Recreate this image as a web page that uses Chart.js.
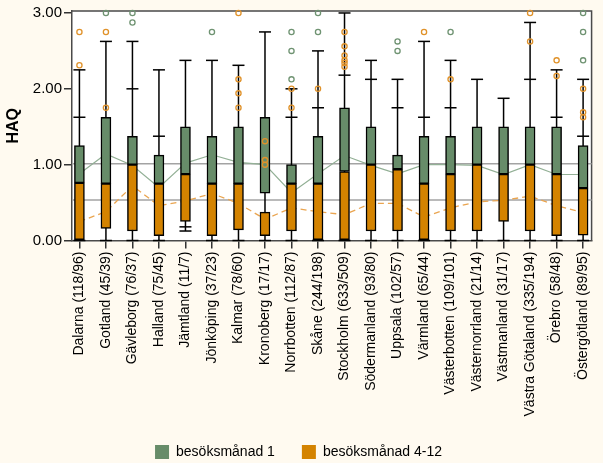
<!DOCTYPE html>
<html>
<head>
<meta charset="utf-8">
<script src="https://cdn.jsdelivr.net/npm/chart.js@4/dist/chart.umd.min.js"></script>
<style>
html,body{margin:0;padding:0;background:#fffaf0;}
canvas{display:block;}
</style>
</head>
<body>
<canvas id="c" width="603" height="463"></canvas>
<script>
// ---- data ----
const categories = ['Dalarna (118/96)','Gotland (45/39)','Gävleborg (76/37)','Halland (75/45)','Jämtland (11/7)','Jönköping (37/23)','Kalmar (78/60)','Kronoberg (17/17)','Norrbotten (112/87)','Skåne (244/198)','Stockholm (633/509)','Södermanland (93/80)','Uppsala (102/57)','Värmland (65/44)','Västerbotten (109/101)','Västernorrland (21/14)','Västmanland (31/17)','Västra Götaland (335/194)','Örebro (58/48)','Östergötland (89/95)'];
const seriesNames = ['besöksmånad 1','besöksmånad 4-12'];

// box of besöksmånad 1 (green)
const greenLow  = [0.76,0.75,1.00,0.75,0.875,0.75,0.75,0.625,0.75,0.75,0.91,1.00,0.94,0.75,0.875,1.00,0.875,1.00,0.875,0.69];
const greenHigh = [1.25,1.625,1.375,1.125,1.50,1.375,1.50,1.625,1.00,1.375,1.75,1.50,1.125,1.375,1.375,1.50,1.50,1.50,1.50,1.25];
// box of besöksmånad 4-12 (orange)
const orangeLow  = [0,0.16,0.125,0.0625,0.25,0.0625,0.14,0.0625,0.125,0,0,0.125,0.125,0,0.125,0.125,0.25,0.125,0.0625,0.07];
const orangeHigh = [0.76,0.75,1.00,0.75,0.875,0.75,0.75,0.375,0.75,0.75,0.91,1.00,0.94,0.75,0.875,1.00,0.875,1.00,0.875,0.69];

// whiskers
const whiskerMin = [0,0,0,0,0.125,0,0,0,0,0,0,0,0,0,0,0,0,0,0,0];
const whiskerMax = [2.25,2.625,2.625,2.25,2.375,2.375,2.31,2.75,2.00,2.50,3.00,2.375,2.125,2.625,2.375,2.125,1.875,2.875,2.25,2.125];
const innerCaps  = [[1.625],[],[2.00],[1.375],[0.18],[],[],[],[1.625],[1.75],[2.18],[2.125],[1.75],[1.625],[1.75],[],[],[2.125],[1.625],[1.375]];

// outliers
const greenOutliers  = [[],[3.0],[3.0,2.875],[],[],[2.75],[],[],[2.75,2.5,2.125],[3.0,2.75],[],[],[2.625,2.5],[],[2.75],[],[],[],[],[3.0,2.75,2.375]];
const orangeOutliers = [[2.75,2.31],[2.75,1.75],[],[],[],[],[3.0,2.125,1.94,1.75],[1.31,1.06,1.0],[2.0,1.75],[2.0],[2.75,2.56,2.44,2.375,2.34,2.29],[],[],[2.75],[2.125],[],[],[3.0,2.625],[2.375,2.17],[2.0,1.69,1.625]];

// means
const greenMean  = [0.88,1.14,0.99,0.70,1.02,1.13,1.03,1.00,0.63,0.88,1.12,0.99,0.88,1.00,1.00,0.99,0.87,1.00,0.87,0.87];
const orangeMean = [0.25,0.38,0.72,0.46,0.52,0.62,0.49,0.28,0.43,0.38,0.34,0.49,0.49,0.31,0.43,0.51,0.53,0.585,0.46,0.37];

// overall reference lines
const refLines = [1.013, 0.533];

const yTicks = [0,1,2,3];

// ---- colours ----
const GREEN = '#678c69', ORANGE = '#d48300';

Chart.defaults.font.family = "'Liberation Sans', Arial, sans-serif";

const bgPlugin = {
  id: 'bg',
  beforeDraw(chart) {
    const {ctx, chartArea: a} = chart;
    ctx.save();
    ctx.fillStyle = '#fffaf0';
    ctx.fillRect(0, 0, chart.width, chart.height);
    ctx.fillStyle = '#ffffff';
    ctx.fillRect(a.left, a.top, a.right - a.left, a.bottom - a.top);
    ctx.restore();
  },
  beforeDatasetsDraw(chart) {
    const {ctx, chartArea: a, scales: {x, y}} = chart;
    ctx.save();
    // frame top/right
    ctx.strokeStyle = '#4a4a4a';
    ctx.lineWidth = 1.5;
    ctx.beginPath();
    ctx.moveTo(a.left, a.top);
    ctx.lineTo(a.right, a.top);
    ctx.lineTo(a.right, a.bottom);
    ctx.stroke();
    // reference lines
    ctx.strokeStyle = '#a3a3a3';
    ctx.lineWidth = 1.5;
    refLines.forEach(v => {
      const py = y.getPixelForValue(v);
      ctx.beginPath();
      ctx.moveTo(a.left, py);
      ctx.lineTo(a.right, py);
      ctx.stroke();
    });
    // whiskers
    ctx.strokeStyle = '#000';
    ctx.lineWidth = 1.5;
    categories.forEach((c, i) => {
      const px = x.getPixelForValue(i);
      const y0 = y.getPixelForValue(whiskerMin[i]);
      const y1 = y.getPixelForValue(whiskerMax[i]);
      ctx.beginPath();
      ctx.moveTo(px, y0);
      ctx.lineTo(px, y1);
      ctx.stroke();
      [whiskerMin[i], whiskerMax[i]].concat(innerCaps[i]).forEach(v => {
        const py = y.getPixelForValue(v);
        ctx.beginPath();
        ctx.moveTo(px - 6, py);
        ctx.lineTo(px + 6, py);
        ctx.stroke();
      });
    });
    ctx.restore();
  }
};

const toPts = (arr) => arr.map((v, i) => ({x: i, y: v}));
const toOut = (lists) => lists.flatMap((l, i) => l.map(v => ({x: i, y: v})));

new Chart(document.getElementById('c'), {
  type: 'bar',
  data: {
    datasets: [
      { type: 'bar', label: seriesNames[0], data: categories.map((c, i) => ({x: i, y: [greenLow[i], greenHigh[i]]})),
        backgroundColor: GREEN, borderColor: '#000', borderWidth: 1.5, borderSkipped: false,
        barThickness: 10, grouped: false, order: 1 },
      { type: 'bar', label: seriesNames[1], data: categories.map((c, i) => ({x: i, y: [orangeLow[i], orangeHigh[i]]})),
        backgroundColor: ORANGE, borderColor: '#000', borderWidth: 1.5, borderSkipped: false,
        barThickness: 10, grouped: false, order: 1 },
      { type: 'line', label: 'mean1', data: toPts(greenMean), borderColor: '#93b096', borderWidth: 1.2,
        pointRadius: 0, tension: 0, fill: false, order: 2 },
      { type: 'line', label: 'mean2', data: toPts(orangeMean), borderColor: '#eaa550', borderWidth: 1.3,
        borderDash: [6, 4], pointRadius: 0, tension: 0, fill: false, order: 2 },
      { type: 'scatter', label: 'out1', data: toOut(greenOutliers), pointStyle: 'circle', pointRadius: 2.6,
        pointBorderWidth: 1.3, pointBorderColor: '#6f9372', pointBackgroundColor: 'rgba(0,0,0,0)', clip: false, order: 0 },
      { type: 'scatter', label: 'out2', data: toOut(orangeOutliers), pointStyle: 'circle', pointRadius: 2.6,
        pointBorderWidth: 1.3, pointBorderColor: '#e0922a', pointBackgroundColor: 'rgba(0,0,0,0)', clip: false, order: 0 }
    ]
  },
  options: {
    responsive: false,
    animation: false,
    devicePixelRatio: 1,
    layout: { padding: { left: 0, right: 6, top: 9, bottom: 0 } },
    plugins: {
      tooltip: { enabled: false },
      legend: {
        position: 'bottom',
        maxHeight: 45,
        labels: {
          boxWidth: 14, boxHeight: 14, padding: 27,
          font: { size: 14 }, color: '#000',
          generateLabels(chart) {
            return Chart.defaults.plugins.legend.labels.generateLabels(chart)
              .filter(l => l.datasetIndex < 2)
              .map(l => Object.assign(l, { lineWidth: 0, strokeStyle: l.fillStyle }));
          }
        }
      }
    },
    scales: {
      x: {
        type: 'linear', min: -0.28, max: 19.32, offset: false,
        afterBuildTicks: s => { s.ticks = categories.map((c, i) => ({ value: i })); },
        afterFit: s => { s.height = 177.5; },
        ticks: { autoSkip: false, minRotation: 90, maxRotation: 90, padding: 3,
          callback: v => categories[v], font: { size: 14 }, color: '#000' },
        grid: { drawOnChartArea: false, drawTicks: true, tickLength: 8, color: '#333', lineWidth: 1.5, offset: false },
        border: { display: true, color: '#4a4a4a', width: 1.5 }
      },
      y: {
        min: 0, max: 3.026,
        afterBuildTicks: s => { s.ticks = yTicks.map(v => ({ value: v })); },
        afterFit: s => { s.width = 72; },
        ticks: { callback: v => Number(v).toFixed(2), font: { size: 15 }, color: '#000', padding: 2 },
        grid: { drawOnChartArea: false, drawTicks: true, tickLength: 8, color: '#333', lineWidth: 1.5 },
        border: { display: true, color: '#4a4a4a', width: 1.5 },
        title: { display: true, text: 'HAQ', font: { size: 16, weight: 'bold' }, color: '#000', padding: { top: 4, bottom: 0 } }
      }
    }
  },
  plugins: [bgPlugin]
});
</script>
</body>
</html>
